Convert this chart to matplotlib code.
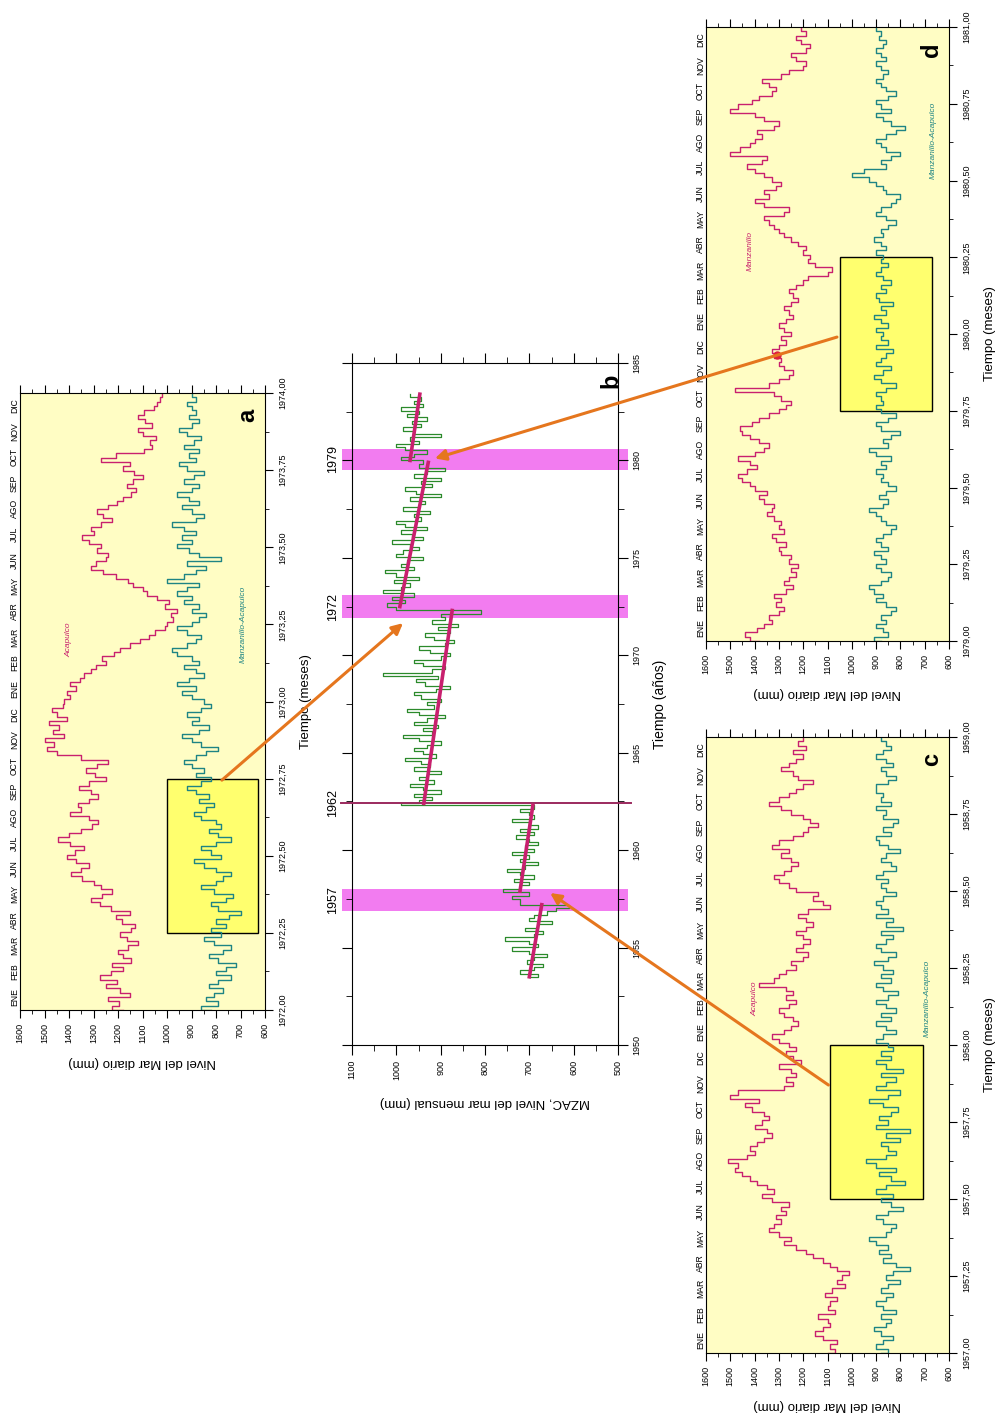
import matplotlib.pyplot as plt
import numpy as np
from matplotlib.ticker import MultipleLocator, FuncFormatter
from matplotlib.patches import Rectangle, ConnectionPatch
import matplotlib.transforms as mtransforms

plt.rcParams['font.family'] = ['Liberation Sans', 'DejaVu Sans']

# ---------------- datos (nivel diario, un valor cada ~5 dias) ----------------
acapulco_72 = [1180, 1225, 1195, 1240, 1150, 1190, 1250, 1205, 1275, 1230, 1180, 1225,
               1145, 1180, 1200, 1160, 1120, 1165, 1190, 1145, 1130, 1185, 1210, 1150,
               1230, 1275, 1310, 1265, 1225, 1270, 1300, 1345, 1390, 1350, 1320, 1370,
               1410, 1375, 1340, 1395, 1445, 1400, 1350, 1305, 1280, 1320, 1395, 1350,
               1365, 1320, 1280, 1310, 1360, 1320, 1250, 1295, 1330, 1285, 1240, 1350,
               1450, 1490, 1460, 1500, 1420, 1465, 1440, 1480, 1410, 1450, 1470, 1425,
               1420, 1395, 1410, 1370, 1395, 1355, 1340, 1310, 1290, 1250, 1265, 1215,
               1190, 1150, 1110, 1075, 1050, 1010, 1000, 975, 985, 960, 1010, 990,
               1040, 1080, 1100, 1140, 1160, 1210, 1260, 1310, 1290, 1250, 1240, 1285,
               1270, 1320, 1345, 1300, 1310, 1270, 1225, 1260, 1285, 1240, 1205, 1180,
               1145, 1125, 1165, 1140, 1100, 1135, 1180, 1150, 1270, 1210, 1095, 1060,
               1070, 1045, 1100, 1120, 1060, 1090, 1120, 1095, 1055, 1040, 1030, 1020]
dif_72 = [820, 860, 790, 840, 810, 770, 830, 790, 740, 800, 760, 720,
          790, 830, 770, 740, 810, 850, 780, 820, 760, 800, 745, 700,
          790, 820, 760, 730, 810, 860, 800, 770, 740, 800, 850, 890,
          780, 820, 860, 800, 740, 790, 830, 780, 800, 860, 890, 840,
          810, 870, 830, 880, 920, 860, 820, 880, 850, 900, 930, 880,
          840, 790, 860, 900, 940, 870, 830, 900, 870, 920, 860, 820,
          850, 900, 940, 880, 960, 910, 850, 880, 930, 870, 900, 960,
          980, 920, 880, 860, 920, 960, 900, 870, 840, 900, 870, 930,
          900, 960, 920, 870, 1000, 930, 880, 840, 920, 780, 870, 910,
          960, 900, 940, 880, 930, 980, 880, 850, 900, 940, 870, 910,
          960, 900, 870, 930, 890, 850, 920, 950, 880, 910, 870, 930,
          890, 860, 920, 950, 900, 870, 910, 880, 900, 920, 880, 900]

acapulco_57 = [1100, 1070, 1090, 1060, 1120, 1150, 1120, 1090, 1100, 1140, 1070, 1100,
               1090, 1060, 1110, 1080, 1030, 1060, 1040, 1010, 1060, 1090, 1120, 1160,
               1190, 1230, 1280, 1250, 1300, 1340, 1320, 1290, 1310, 1270, 1290, 1260,
               1330, 1370, 1320, 1350, 1390, 1420, 1450, 1480, 1470, 1510, 1430, 1400,
               1420, 1390, 1360, 1330, 1350, 1400, 1370, 1340, 1360, 1410, 1440, 1380,
               1500, 1470, 1280, 1240, 1270, 1230, 1250, 1300, 1210, 1240, 1270, 1230,
               1260, 1300, 1330, 1280, 1250, 1220, 1240, 1280, 1300, 1260, 1230, 1270,
               1240, 1270, 1380, 1320, 1300, 1270, 1230, 1250, 1200, 1180, 1230, 1200,
               1170, 1200, 1230, 1190, 1160, 1190, 1220, 1180, 1090, 1120, 1160, 1140,
               1230, 1260, 1300, 1320, 1280, 1250, 1220, 1250, 1290, 1260, 1330, 1300,
               1240, 1200, 1180, 1140, 1170, 1200, 1250, 1290, 1340, 1300, 1260, 1230,
               1200, 1160, 1220, 1240, 1290, 1260, 1230, 1200, 1240, 1190, 1220, 1200]
dif_57 = [880, 850, 900, 870, 830, 880, 910, 860, 840, 880, 820, 870,
          900, 860, 830, 880, 850, 800, 860, 830, 760, 820, 870, 840,
          890, 850, 900, 930, 860, 840, 820, 870, 900, 850, 790, 840,
          880, 830, 900, 860, 780, 840, 890, 820, 900, 940, 860, 820,
          850, 880, 800, 860, 760, 900, 850, 890, 840, 810, 870, 930,
          850, 800, 900, 860, 820, 880, 790, 860, 900, 840, 880, 830,
          850, 900, 870, 820, 860, 900, 840, 880, 820, 860, 900, 850,
          810, 870, 900, 840, 880, 830, 870, 910, 850, 820, 880, 900,
          860, 830, 880, 790, 860, 830, 900, 850, 880, 900, 870, 820,
          860, 880, 850, 900, 870, 820, 840, 880, 860, 800, 850, 890,
          900, 840, 870, 830, 810, 870, 860, 900, 840, 880, 870, 900,
          900, 850, 820, 860, 880, 830, 860, 900, 870, 840, 860, 880]

manzanillo_79 = [1380, 1420, 1440, 1390, 1360, 1330, 1340, 1300, 1280, 1310, 1290, 1320,
                 1270, 1240, 1280, 1260, 1230, 1250, 1220, 1260, 1250, 1290, 1300, 1270,
                 1310, 1330, 1280, 1300, 1290, 1320, 1350, 1330, 1320, 1360, 1380, 1350,
                 1400, 1420, 1450, 1470, 1430, 1390, 1420, 1470, 1400, 1360, 1340, 1380,
                 1420, 1450, 1460, 1410, 1380, 1340, 1300, 1270, 1250, 1290, 1320, 1480,
                 1340, 1300, 1260, 1240, 1280, 1300, 1290, 1320, 1330, 1300, 1270, 1290,
                 1250, 1280, 1300, 1270, 1240, 1260, 1280, 1250, 1220, 1240, 1260, 1230,
                 1200, 1180, 1100, 1080, 1150, 1180, 1170, 1200, 1190, 1220, 1250, 1280,
                 1300, 1320, 1340, 1360, 1280, 1260, 1360, 1400, 1340, 1360, 1310, 1290,
                 1330, 1360, 1400, 1430, 1370, 1350, 1500, 1460, 1420, 1400, 1370, 1390,
                 1320, 1300, 1360, 1400, 1500, 1470, 1410, 1380, 1330, 1310, 1340, 1370,
                 1290, 1260, 1200, 1190, 1230, 1250, 1190, 1170, 1210, 1230, 1190, 1210]
dif_79 = [880, 910, 850, 870, 900, 860, 880, 840, 820, 860, 900, 870,
          910, 930, 880, 850, 840, 880, 900, 860, 880, 910, 850, 880,
          900, 870, 840, 820, 860, 880, 900, 930, 870, 850, 890, 860,
          820, 850, 880, 870, 900, 860, 880, 840, 900, 930, 850, 870,
          840, 800, 880, 900, 850, 820, 880, 900, 870, 880, 900, 860,
          820, 880, 910, 870, 840, 900, 880, 860, 830, 900, 850, 880,
          870, 900, 850, 880, 910, 860, 880, 830, 890, 900, 860, 880,
          840, 870, 900, 880, 850, 880, 870, 900, 860, 880, 910, 870,
          880, 850, 820, 860, 900, 880, 840, 820, 800, 860, 870, 900,
          930, 1000, 950, 860, 880, 840, 800, 860, 880, 900, 860, 820,
          780, 840, 870, 900, 840, 880, 900, 850, 820, 860, 880, 900,
          870, 850, 880, 900, 860, 880, 900, 870, 860, 890, 880, 900]

meses = ['ENE', 'FEB', 'MAR', 'ABR', 'MAY', 'JUN', 'JUL', 'AGO', 'SEP', 'OCT', 'NOV', 'DIC']

# ---------------- datos (MZAC mensual, por tramos) ----------------
tramos_anios = [(1953.5, 1957.2), (1957.5, 1962.3), (1962.4, 1972.3), (1972.5, 1979.8), (1980.0, 1983.4)]
tramo1 = [700, 680, 720, 690, 670, 705, 690, 660, 700, 740, 680, 700, 755, 690, 670, 710,
          680, 650, 700, 690, 660, 640, 610]
tramo2 = [720, 740, 700, 760, 720, 700, 735, 690, 720, 750, 710, 680, 720, 700, 740, 690,
          710, 680, 700, 730, 690, 720, 680, 700, 740, 690, 700, 720, 690]
tramo3 = [990, 950, 920, 960, 900, 940, 970, 915, 950, 930, 900, 960, 925, 945, 980, 910,
          940, 960, 930, 900, 950, 985, 920, 940, 905, 960, 930, 890, 950, 975, 915, 930,
          900, 945, 960, 910, 880, 935, 955, 905, 1030, 920, 890, 940, 960, 900, 880, 925,
          950, 890, 870, 915, 935, 880, 905, 860, 920, 890, 900, 810]
tramo4 = [1000, 1020, 980, 1010, 960, 1030, 990, 970, 1005, 950, 1000, 1025, 960, 990, 975,
          940, 1000, 985, 950, 970, 1010, 940, 965, 990, 930, 980, 1000, 945, 960, 925, 985,
          950, 935, 970, 900, 955, 980, 920, 945, 900, 960, 930, 890, 950]
tramo5 = [940, 990, 960, 930, 980, 1000, 950, 970, 900, 960, 985, 945, 965, 930, 975, 950,
          990, 940, 960, 945, 970]
tendencias = [((1953.5, 1957.2), (700, 672)), ((1957.9, 1962.3), (721, 692)),
              ((1962.4, 1972.3), (938, 874)), ((1972.5, 1979.9), (992, 928)),
              ((1980.0, 1983.4), (969, 947))]
bandas = [(1956.9, 1958.0, '1957'), (1971.9, 1973.1, '1972'), (1979.5, 1980.6, '1979')]
corte = 1962.4

c_mag = '#C8206E'
c_teal = '#1E8484'
c_green = '#2B8A2B'
c_band = '#F27CF0'
c_arrow = '#E5761E'


def px(x0, y0, x1, y1):
    return [x0 / 997, 1 - y1 / 1418, (x1 - x0) / 997, (y1 - y0) / 1418]


def coma(v, p):
    return f'{v:.2f}'.replace('.', ',')


def panel_diario(ax, t0, s1, s2, letra, caja, etq1, pos1, pos2):
    ax.set_facecolor('#FFFDC4')
    t = np.linspace(t0, t0 + 2, len(s1))
    ax.add_patch(Rectangle((caja[0], caja[2]), caja[1] - caja[0], caja[3] - caja[2],
                           facecolor='#FFFF6E', edgecolor='black', lw=1.0, zorder=1))
    ax.plot(s1, t, color=c_mag, lw=1.0, drawstyle='steps-post', zorder=2)
    ax.plot(s2, t, color=c_teal, lw=1.0, drawstyle='steps-post', zorder=2)
    ax.set_xlim(1600, 600)
    ax.set_ylim(t0, t0 + 2)
    ax.xaxis.set_major_locator(MultipleLocator(100))
    ax.xaxis.set_minor_locator(MultipleLocator(50))
    ax.yaxis.set_major_locator(MultipleLocator(0.25))
    ax.yaxis.set_minor_locator(MultipleLocator(0.125))
    ax.yaxis.set_major_formatter(FuncFormatter(coma))
    ax.yaxis.tick_right()
    ax.yaxis.set_label_position('right')
    ax.tick_params(axis='x', which='both', top=True, bottom=True, labelsize=6.5,
                   labelrotation=90, direction='out')
    ax.tick_params(axis='y', which='both', left=False, right=True, labelsize=6.5,
                   labelrotation=90, direction='out')
    ax.tick_params(which='major', length=6)
    ax.tick_params(which='minor', length=3)
    for lab in ax.get_yticklabels():
        lab.set_va('center')
    ax.set_xlabel('Nivel del Mar diario (mm)', rotation=180, fontsize=9.5, labelpad=9)
    ax.set_ylabel('Tiempo (meses)', rotation=90, fontsize=9.5, labelpad=9)
    trans = mtransforms.blended_transform_factory(ax.transAxes, ax.transData)
    for k in range(24):
        ax.text(-0.004, t0 + (k + 0.5) / 12, meses[k % 12], transform=trans, rotation=90,
                ha='right', va='center', fontsize=6.2)
    ax.text(0.93, 0.975, letra, transform=ax.transAxes, rotation=90, fontsize=17,
            fontweight='bold', ha='center', va='top')
    ax.text(pos1[0], pos1[1], etq1, rotation=90, color=c_mag, fontsize=6, style='italic',
            ha='center', va='center')
    ax.text(pos2[0], pos2[1], 'Manzanillo-Acapulco', rotation=90, color=c_teal, fontsize=6,
            style='italic', ha='center', va='center')


fig = plt.figure(figsize=(9.97, 14.18), dpi=100)

axa = fig.add_axes(px(20, 393, 265, 1010))
panel_diario(axa, 1972, acapulco_72, dif_72, 'a', (1000, 630, 1972.25, 1972.75),
             'Acapulco', (1400, 1973.2), (690, 1973.25))
axd = fig.add_axes(px(706, 27, 949, 641))
panel_diario(axd, 1979, manzanillo_79, dif_79, 'd', (1050, 670, 1979.75, 1980.25),
             'Manzanillo', (1420, 1980.27), (665, 1980.63))
axd.plot([1308], [1979.93], 'o', color='#E0203C', ms=5, zorder=11)
axc = fig.add_axes(px(706, 737, 949, 1353))
panel_diario(axc, 1957, acapulco_57, dif_57, 'c', (1090, 705, 1957.5, 1958.0),
             'Acapulco', (1400, 1958.15), (690, 1958.15))

# ---------------- panel b ----------------
axb = fig.add_axes(px(352, 363, 618, 1045))
transb = mtransforms.blended_transform_factory(axb.transAxes, axb.transData)
for y0, y1, etq in bandas:
    axb.add_patch(Rectangle((-0.038, y0), 1.075, y1 - y0, transform=transb,
                            facecolor=c_band, edgecolor='none', clip_on=False, zorder=1))
    axb.text(-0.07, (y0 + y1) / 2, etq, transform=transb, rotation=90, fontsize=9,
             ha='center', va='center')
axb.plot([-0.04, 1.05], [corte, corte], transform=transb, color='#9B2A5E', lw=1.4,
         clip_on=False, zorder=3)
axb.text(-0.07, corte, '1962', transform=transb, rotation=90, fontsize=9,
         ha='center', va='center')

vals = tramo1 + tramo2 + tramo3 + tramo4 + tramo5
tiempos = np.concatenate([np.linspace(a, b, len(s)) for (a, b), s in
                          zip(tramos_anios, [tramo1, tramo2, tramo3, tramo4, tramo5])])
axb.plot(vals, tiempos, color=c_green, lw=0.9, drawstyle='steps-post', zorder=2)
for (ta, tb), (va, vb) in tendencias:
    axb.plot([va, vb], [ta, tb], color=c_mag, lw=2.6, zorder=4)

axb.set_xlim(1100, 500)
axb.set_ylim(1950, 1985)
axb.xaxis.set_major_locator(MultipleLocator(100))
axb.xaxis.set_minor_locator(MultipleLocator(50))
axb.yaxis.set_major_locator(MultipleLocator(5))
axb.yaxis.set_minor_locator(MultipleLocator(2.5))
axb.yaxis.tick_right()
axb.yaxis.set_label_position('right')
axb.tick_params(axis='x', which='both', top=True, bottom=True, labelsize=6.5,
                labelrotation=90, direction='out')
axb.tick_params(axis='y', which='both', left=True, right=True, labelsize=6.5,
                labelrotation=90, direction='out')
axb.tick_params(which='major', length=7)
axb.tick_params(which='minor', length=4)
for lab in axb.get_yticklabels():
    lab.set_va('center')
axb.set_xlabel('MZAC, Nivel del mar mensual (mm)', rotation=180, fontsize=9.5, labelpad=12)
axb.set_ylabel('Tiempo (años)', rotation=90, fontsize=10, labelpad=8)
axb.text(0.975, 0.985, 'b', transform=axb.transAxes, rotation=90, fontsize=17,
         fontweight='bold', ha='center', va='top')

# ---------------- flechas ----------------
flechas = [(axa, (776, 1972.745), (985, 1971.65)),
           (axc, (1096, 1957.87), (653, 1957.8)),
           (axd, (1061, 1979.99), (913, 1980.1))]
for ax, pa, pb in flechas:
    con = ConnectionPatch(xyA=pa, coordsA=ax.transData, xyB=pb, coordsB=axb.transData,
                          arrowstyle='-|>', mutation_scale=16, color=c_arrow, lw=2.2,
                          zorder=10)
    fig.add_artist(con)

fig.savefig('out.png', dpi=100)
